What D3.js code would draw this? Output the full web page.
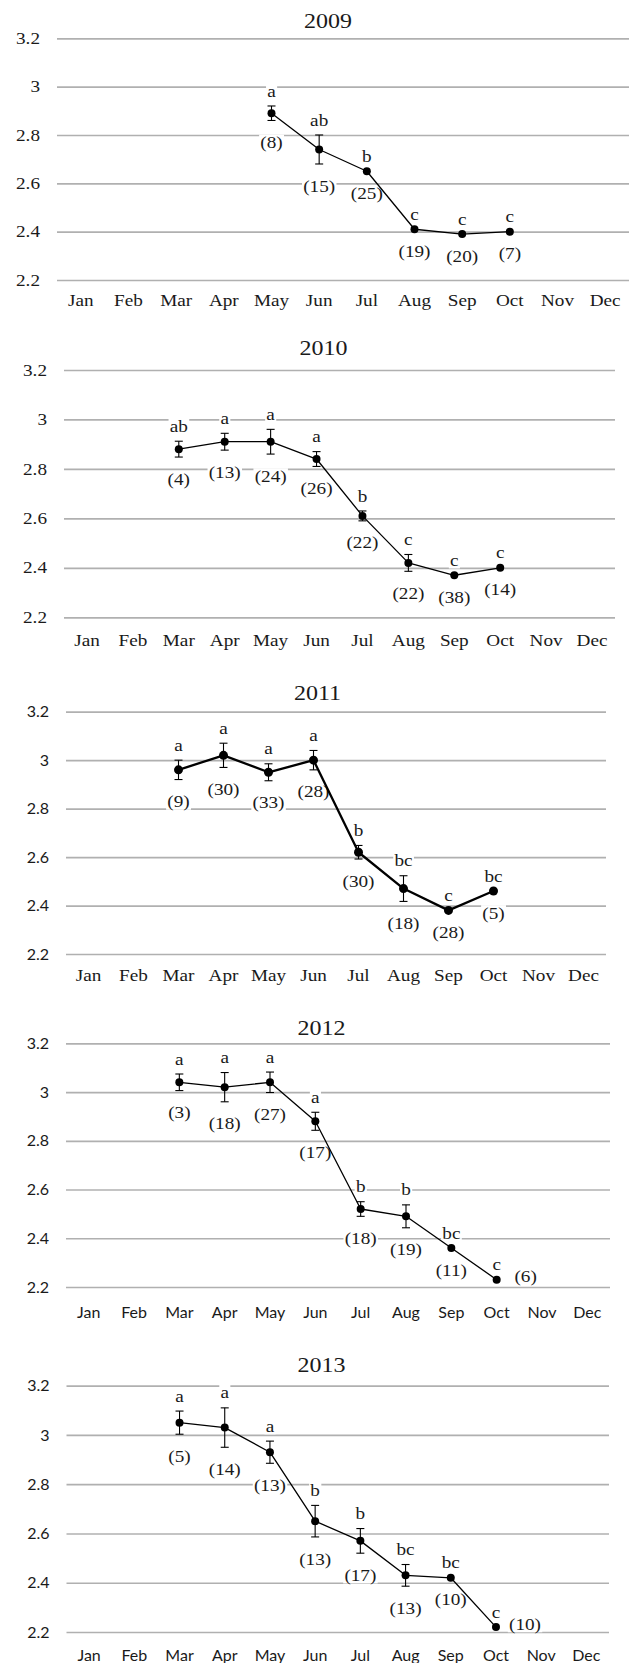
<!DOCTYPE html>
<html>
<head>
<meta charset="utf-8">
<script src="https://cdn.jsdelivr.net/npm/d3@7"></script>
<style>
  body { margin: 0; background: #ffffff; }
  svg { display: block; }
</style>
</head>
<body>
<svg id="chart" width="631" height="1663"></svg>
<script>
// ---- data -------------------------------------------------------------
const months = ["Jan", "Feb", "Mar", "Apr", "May", "Jun", "Jul", "Aug", "Sep", "Oct", "Nov", "Dec"];
const yTicks = [2.2, 2.4, 2.6, 2.8, 3, 3.2];
const years = ["2009", "2010", "2011", "2012", "2013"];

const months2009 = ["May", "Jun", "Jul", "Aug", "Sep", "Oct"];
const mean2009   = [2.89, 2.74, 2.65, 2.41, 2.39, 2.40];
const se2009     = [0.03, 0.06, 0, 0, 0, 0];
const group2009  = ["a", "ab", "b", "c", "c", "c"];
const n2009      = [8, 15, 25, 19, 20, 7];

const months2010 = ["Mar", "Apr", "May", "Jun", "Jul", "Aug", "Sep", "Oct"];
const mean2010   = [2.88, 2.91, 2.91, 2.84, 2.61, 2.42, 2.37, 2.40];
const se2010     = [0.032, 0.034, 0.05, 0.03, 0.02, 0.034, 0, 0];
const group2010  = ["ab", "a", "a", "a", "b", "c", "c", "c"];
const n2010      = [4, 13, 24, 26, 22, 22, 38, 14];

const months2011 = ["Mar", "Apr", "May", "Jun", "Jul", "Aug", "Sep", "Oct"];
const mean2011   = [2.96, 3.02, 2.95, 3.00, 2.62, 2.47, 2.38, 2.46];
const se2011     = [0.04, 0.05, 0.035, 0.04, 0.028, 0.053, 0, 0];
const group2011  = ["a", "a", "a", "a", "b", "bc", "c", "bc"];
const n2011      = [9, 30, 33, 28, 30, 18, 28, 5];

const months2012 = ["Mar", "Apr", "May", "Jun", "Jul", "Aug", "Sep", "Oct"];
const mean2012   = [3.04, 3.02, 3.04, 2.88, 2.52, 2.49, 2.36, 2.23];
const se2012     = [0.034, 0.06, 0.042, 0.037, 0.03, 0.047, 0, 0];
const group2012  = ["a", "a", "a", "a", "b", "b", "bc", "c"];
const n2012      = [3, 18, 27, 17, 18, 19, 11, 6];

const months2013 = ["Mar", "Apr", "May", "Jun", "Jul", "Aug", "Sep", "Oct"];
const mean2013   = [3.05, 3.03, 2.93, 2.65, 2.57, 2.43, 2.42, 2.22];
const se2013     = [0.047, 0.08, 0.045, 0.064, 0.05, 0.044, 0, 0];
const group2013  = ["a", "a", "a", "b", "b", "bc", "bc", "c"];
const n2013      = [5, 14, 13, 13, 17, 13, 10, 10];

const seriesByYear = [
  { months: months2009, mean: mean2009, se: se2009, group: group2009, n: n2009 },
  { months: months2010, mean: mean2010, se: se2010, group: group2010, n: n2010 },
  { months: months2011, mean: mean2011, se: se2011, group: group2011, n: n2011 },
  { months: months2012, mean: mean2012, se: se2012, group: group2012, n: n2012 },
  { months: months2013, mean: mean2013, se: se2013, group: group2013, n: n2013 }
];

// ---- layout & style ---------------------------------------------------
const SERIF = "'Liberation Serif', 'Times New Roman', serif";
const SANS  = "Lato, 'Open Sans', 'Liberation Sans', sans-serif";
const TEXT  = "#1a1a1a";
const GRID  = "#b0b0b0";
const STRETCH = 1.2;   // the serif lettering is set slightly wide

const panels = [
  { top: 38.3,   bottom: 280,    left: 57,   right: 629, titleX: 328,   titleY: 21,   monthGap: 20, tickFont: "serif", monthFont: "serif", lineWidth: 1.3 },
  { top: 370,    bottom: 617.3,  left: 64,   right: 615, titleX: 323.5, titleY: 348,  monthGap: 23, tickFont: "serif", monthFont: "serif", lineWidth: 1.3 },
  { top: 711.7,  bottom: 954,    left: 66,   right: 606, titleX: 317.5, titleY: 693,  monthGap: 21, tickFont: "sans",  monthFont: "serif", lineWidth: 2.3 },
  { top: 1043.3, bottom: 1287,   left: 66,   right: 610, titleX: 321.5, titleY: 1028, monthGap: 25, tickFont: "sans",  monthFont: "sans",  lineWidth: 1.3 },
  { top: 1385.7, bottom: 1632,   left: 66.5, right: 609, titleX: 321.5, titleY: 1365, monthGap: 23, tickFont: "sans",  monthFont: "sans",  lineWidth: 1.3 }
];

const svg = d3.select("#chart");

// widen a text element horizontally while keeping its anchor point
function widen(sel, sx) {
  sel.each(function () {
    const t = d3.select(this);
    const x = +t.attr("x") || 0;
    t.attr("x", x / sx).attr("transform", `scale(${sx},1)`);
  });
}

function fontStyle(sel, kind, size) {
  sel.attr("font-family", kind === "sans" ? SANS : SERIF)
     .attr("font-size", size)
     .attr("fill", TEXT);
  if (kind !== "sans") widen(sel, STRETCH);
}

// a label with a white backing box, centred on (x, y)
function label(g, x, y, txt) {
  const lg = g.append("g").attr("transform", `translate(${x},${y}) scale(${STRETCH},1)`);
  const rect = lg.append("rect").attr("fill", "#ffffff");
  const t = lg.append("text")
    .attr("text-anchor", "middle")
    .attr("dy", "0.35em")
    .attr("font-family", SERIF)
    .attr("font-size", 16)
    .attr("fill", TEXT)
    .text(txt);
  const b = t.node().getBBox();
  rect.attr("x", b.x - 1).attr("y", b.y + 1).attr("width", b.width + 2).attr("height", b.height - 2);
  return lg;
}

panels.forEach((p, i) => {
  const s = seriesByYear[i];
  const g = svg.append("g");

  const x = d3.scaleBand().domain(months).range([p.left, p.right]);
  const y = d3.scaleLinear().domain([2.2, 3.2]).range([p.bottom, p.top]);
  const cx = m => x(m) + x.bandwidth() / 2;

  // title
  const title = g.append("text")
    .attr("x", p.titleX).attr("y", p.titleY)
    .attr("text-anchor", "middle").attr("dy", "0.35em")
    .text(years[i]);
  title.attr("font-family", SERIF).attr("font-size", 20).attr("fill", TEXT);
  widen(title, STRETCH);

  // horizontal gridlines + value labels
  const yAxis = g.append("g")
    .attr("transform", `translate(${p.left},0)`)
    .call(d3.axisLeft(y).tickValues(yTicks).tickSize(-(p.right - p.left)).tickPadding(17)
      .tickFormat(d => String(+d.toFixed(1))));
  yAxis.select(".domain").remove();
  yAxis.selectAll(".tick line").attr("stroke", GRID).attr("stroke-width", 1.7);
  fontStyle(yAxis.selectAll(".tick text"), p.tickFont, 16);

  // month labels
  const xAxis = g.append("g")
    .attr("transform", `translate(0,${p.bottom})`)
    .call(d3.axisBottom(x).tickSize(0));
  xAxis.select(".domain").remove();
  xAxis.selectAll(".tick text").attr("y", p.monthGap).attr("dy", "0.35em");
  fontStyle(xAxis.selectAll(".tick text"), p.monthFont, 16);

  const pts = s.months.map((m, k) => ({
    m, mean: s.mean[k], se: s.se[k], group: s.group[k], n: s.n[k]
  }));

  // significance letters above, sample sizes below (or beside, near the floor)
  const labels = g.append("g");
  pts.forEach(d => {
    label(labels, cx(d.m), y(d.mean + d.se) - 15, d.group);
    let ny = y(d.mean - d.se) + 22;
    let nx = cx(d.m);
    if (ny > p.bottom - 6) { nx = cx(d.m) + 29; ny = y(d.mean) - 3; }
    label(labels, nx, ny, `(${d.n})`);
  });

  // mean line
  g.append("path")
    .datum(pts)
    .attr("fill", "none")
    .attr("stroke", "#000")
    .attr("stroke-width", p.lineWidth)
    .attr("stroke-linejoin", "round")
    .attr("d", d3.line().x(d => cx(d.m)).y(d => y(d.mean)));

  // error bars
  const eb = g.append("g").attr("stroke", "#000").attr("stroke-width", 1.1);
  pts.filter(d => d.se > 0).forEach(d => {
    const xc = cx(d.m);
    eb.append("line").attr("x1", xc).attr("x2", xc).attr("y1", y(d.mean - d.se)).attr("y2", y(d.mean + d.se));
    eb.append("line").attr("x1", xc - 4).attr("x2", xc + 4).attr("y1", y(d.mean - d.se)).attr("y2", y(d.mean - d.se));
    eb.append("line").attr("x1", xc - 4).attr("x2", xc + 4).attr("y1", y(d.mean + d.se)).attr("y2", y(d.mean + d.se));
  });

  // means
  g.append("g").selectAll("circle")
    .data(pts)
    .join("circle")
    .attr("cx", d => cx(d.m))
    .attr("cy", d => y(d.mean))
    .attr("r", i === 2 ? 4.5 : 4)
    .attr("fill", "#000");
});
</script>
</body>
</html>
